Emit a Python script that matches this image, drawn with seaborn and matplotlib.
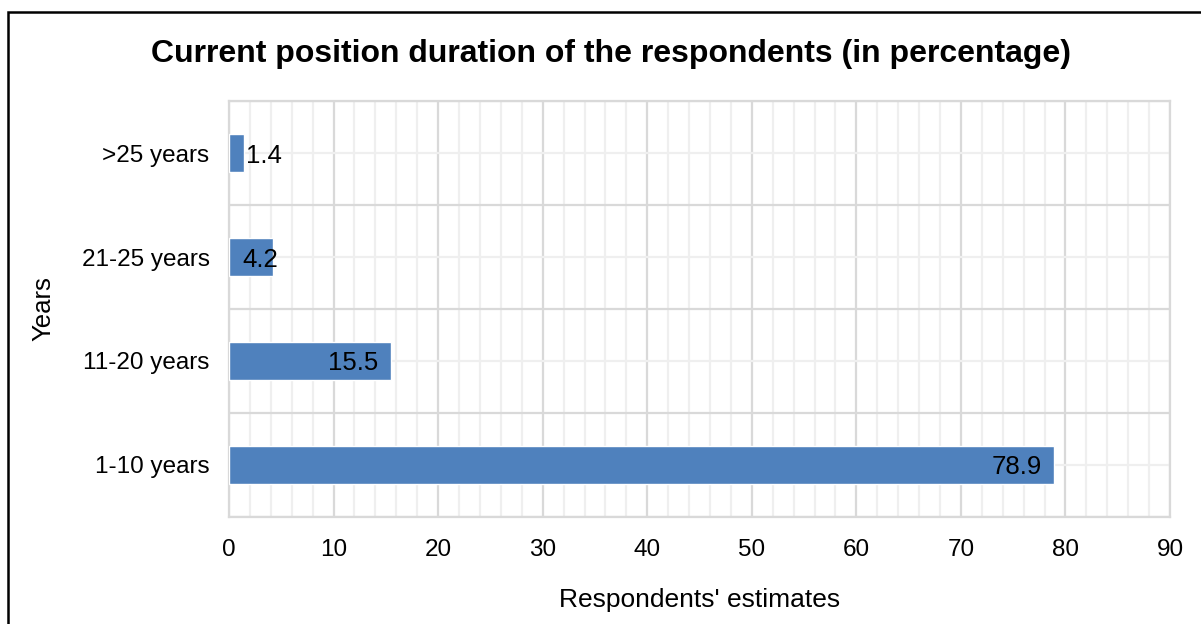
import matplotlib
matplotlib.use("Agg")
import matplotlib.pyplot as plt
import seaborn as sns
import pandas as pd
from matplotlib.ticker import MultipleLocator, FixedLocator
from matplotlib.patches import Rectangle

# Data
categories = [">25 years", "21-25 years", "11-20 years", "1-10 years"]
values = [1.4, 4.2, 15.5, 78.9]
x_ticks = [0, 10, 20, 30, 40, 50, 60, 70, 80, 90]

title = "Current position duration of the respondents (in percentage)"
x_label = "Respondents' estimates"
y_label = "Years"

sns.set_theme(style="white")
plt.rcParams["font.family"] = ["Liberation Sans", "DejaVu Sans"]

df = pd.DataFrame({"years": categories, "pct": values})

fig = plt.figure(figsize=(12.01, 6.24), dpi=100)
ax = fig.add_axes([0.1907, 0.1715, 0.7835, 0.6666])

bar_color = "#4F81BD"
sns.barplot(data=df, x="pct", y="years", order=categories, orient="h",
            color=bar_color, saturation=1, width=0.36, ax=ax, zorder=3)

ax.set_xlim(0, 90)
ax.set_ylim(len(categories) - 0.5, -0.5)
ax.xaxis.set_major_locator(FixedLocator(x_ticks))
ax.xaxis.set_minor_locator(MultipleLocator(2))
ax.yaxis.set_minor_locator(FixedLocator([i - 0.5 for i in range(len(categories) + 1)]))

major_grid = "#D9D9D9"
minor_grid = "#EFEFEF"
ax.xaxis.grid(True, which="minor", color=minor_grid, lw=1.6, zorder=0)
ax.xaxis.grid(True, which="major", color=major_grid, lw=1.6, zorder=1)
ax.yaxis.grid(True, which="major", color=minor_grid, lw=1.6, zorder=0)
ax.yaxis.grid(True, which="minor", color=major_grid, lw=1.6, zorder=1)
ax.set_axisbelow(True)

for s in ax.spines.values():
    s.set_color(major_grid)
    s.set_linewidth(1.6)

tick_fs = 17.5
text_fs = 18.5
ax.tick_params(axis="both", which="both", length=0)
ax.tick_params(axis="y", pad=14, labelsize=tick_fs, labelcolor="#000000")
ax.tick_params(axis="x", pad=16, labelsize=tick_fs, labelcolor="#000000")

ax.set_xlabel(x_label, fontsize=19, color="#000000", labelpad=19)
ax.set_ylabel(y_label, fontsize=text_fs, color="#000000", labelpad=19)

# Value labels: inside the bar end, or beside it when the bar is too short
for i, v in enumerate(values):
    txt = f"{v:.1f}"
    if v >= 10:
        ax.annotate(txt, (v, i), xytext=(-9, 0), textcoords="offset points",
                    ha="right", va="center_baseline", fontsize=text_fs,
                    color="#000000", zorder=5)
    elif v >= 3:
        ax.annotate(txt, (v, i), xytext=(4, 0), textcoords="offset points",
                    ha="right", va="center_baseline", fontsize=text_fs,
                    color="#000000", zorder=5)
    else:
        ax.annotate(txt, (v, i), xytext=(1.5, 0), textcoords="offset points",
                    ha="left", va="center_baseline", fontsize=text_fs,
                    color="#000000", zorder=5)

fig.text(0.509, 0.913, title, ha="center", va="center", fontsize=23,
         fontweight="bold", color="#000000")

# Outer chart frame
fig.patches.append(Rectangle((8 / 1201, -0.1), 1.2, 1 - 12 / 624 + 0.1,
                             transform=fig.transFigure, fill=False,
                             edgecolor="#000000", lw=1.8))

fig.savefig("out.png", dpi=100)
